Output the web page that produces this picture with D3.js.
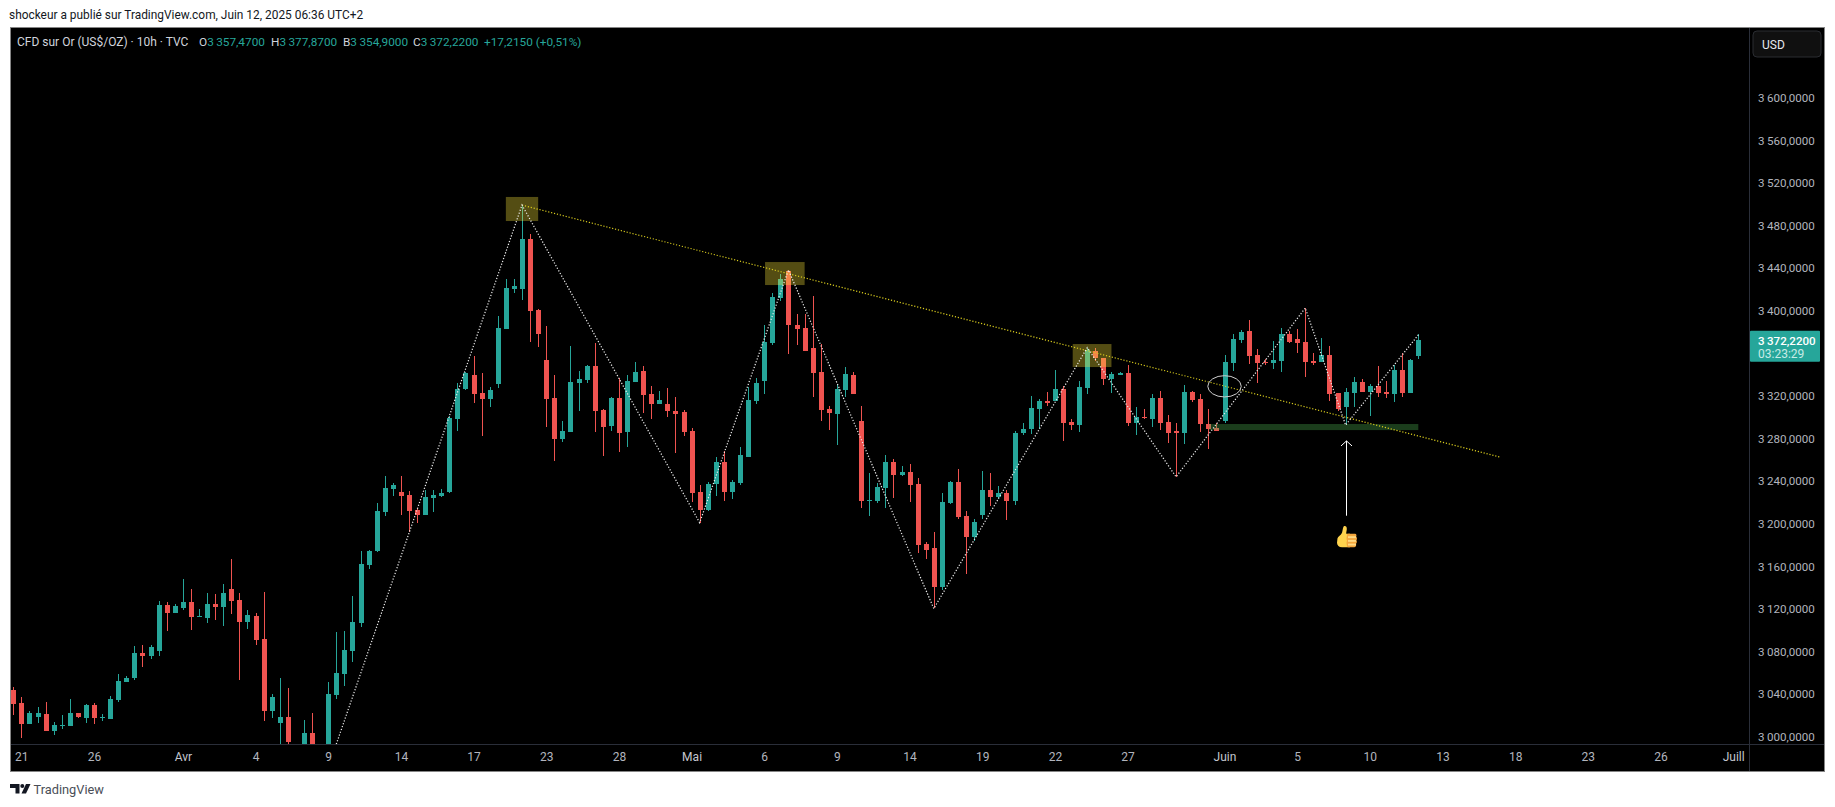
<!DOCTYPE html>
<html>
<head>
<meta charset="utf-8">
<script src="https://cdn.jsdelivr.net/npm/d3@7/dist/d3.min.js"></script>
<style>
html, body { margin: 0; padding: 0; background: #fff; overflow: hidden; }
text { font-family: Roboto, "Noto Sans", sans-serif; }
</style>
</head>
<body>
<div id="chart"></div>
<script>
// one value per 10h bar (bars 33-39 leave the frame at the bottom)
var opens = [3043.8,3031.6,3011.9,3018.5,3021.3,3005.3,3010,3010,3022.2,3017.5,3029.8,3017.9,3016.6,3034.4,3051.4,3055.1,3078.6,3075.8,3080.5,3123.7,3116.1,3120.8,3126.5,3112.7,3111.4,3124.6,3121.8,3138.7,3128.3,3107.7,3113.3,3091.7,3024.1,3012.9,3018.5,2990,2985,3003.5,2975,2984,3039.2,3058.9,3080.5,3106.8,3161.2,3174.4,3211,3232.6,3229.8,3226.9,3212.9,3208.2,3224.1,3226,
3229.7,3298.3,3326.4,3339.6,3322.7,3317.1,3331.1,3382.8,3420.3,3420.3,3467.3,3400.6,3353.7,3318,3279.5,3286.1,3332.1,3334.9,3348,3306.7,3291.7,3318,3286.1,3333,3343.4,3321.8,3312.4,3312.4,3305.8,3304.9,3287,3229.7,3212.8,3237.2,3257.9,3229.7,3238.2,3262.6,3315.2,3334,3369.6,
3411.9,3437.3,3386.6,3383.8,3365,3342.5,3307.7,3303,3325.5,3339.6,3296.4,3221.3,3221.3,3233.5,3257.9,3245.7,3248.6,3237.3,3180.9,3177.2,3140.6,3219.4,3239.2,3207.2,3187.5,3208.2,3231.6,3225.1,3228.8,3221.3,3285.2,3288.9,3307.7,3315.2,3315.2,3326.5,3295.5,3292.7,3327.4,3362.2,3355.6,3335.9,3339.6,3341.5,3294.6,3300.2,3298.3,
3318,3295.5,3287,3285.1,3323.6,3317.1,3293.6,3289.8,3296.4,3350.9,3372.5,3380.9,3358.4,3351.8,3350.9,3352.7,3378.1,3373.4,3370.6,3352.7,3351.8,3358.4,3322.7,3309.5,3322.7,3333,3323.6,3329.3,3323.6,3321.8,3344.3,3322.7,3357.47];
var highs = [3046.7,3037.3,3024.1,3027.9,3032.6,3013.8,3020.4,3035.4,3022.2,3030.7,3031.6,3021.3,3038.2,3058.9,3057,3085.2,3086.1,3086.1,3127.4,3126.5,3124.6,3148.1,3138.7,3119.9,3134.9,3134,3143.4,3166.8,3134.9,3119,3116.1,3135.9,3040.1,3055.1,3045.7,2992,3015.7,3022.2,2990,3051.4,3098.3,3099.2,3132.1,3174.4,3175.3,3219.4,3244.8,3238.2,3244.8,3230.7,3214.7,3231.6,3231.6,3232.6,
3301.1,3332.1,3342.4,3357.4,3341.5,3328.3,3395,3429.7,3429.7,3499.2,3472,3401.6,3385.6,3339.6,3296.4,3366.8,3343.4,3349,3369.6,3307.7,3318.9,3336.8,3339.6,3351.8,3348,3329.3,3324.6,3327.4,3318.9,3306.7,3289.8,3236.3,3239.1,3262.6,3268.2,3241,3272,3328.3,3336.8,3386.5,3416.6,
3434.5,3438.2,3396.9,3396.9,3413.8,3368.7,3310.5,3331.2,3347.1,3342.5,3310.5,3247.6,3238.2,3264.5,3260.8,3254.2,3256.1,3242.9,3182.8,3192.2,3228.8,3240.1,3251.4,3211.9,3204.4,3249.5,3247.6,3235.4,3231.6,3287.1,3294.6,3319.9,3317.1,3323.7,3344.3,3329.3,3298.3,3334,3365,3365,3355.6,3342.5,3342.5,3349,3309.6,3307.7,3321.8,
3324.6,3302,3294.5,3330.2,3324.6,3321.8,3307.7,3294.5,3358.4,3378.1,3381.8,3391.2,3364,3354.6,3371.5,3383.7,3380.9,3382.8,3402.5,3360.3,3374.3,3366.8,3322.7,3327.4,3337.7,3335.8,3331.1,3348,3334,3349,3360.3,3354.6,3377.87];
var lows = [3020.4,2998.8,3011.9,3012.9,3005.3,3001.6,3007.2,3010,3017.5,3012.9,3011.9,3014.7,3016.6,3032.6,3051.4,3053.2,3065.4,3072.9,3075.8,3099.2,3116.1,3119,3100.2,3112.4,3106.8,3109.6,3103.9,3115.2,3053.2,3101.1,3086.1,3014.7,3017.5,2985,2980,2975,2978,2975,2968,2978,3035.4,3047.6,3070.1,3103,3157.5,3173.4,3207.2,3226,3208.2,3192.2,3200.7,3208.2,3211,3225.1,
3229.1,3287,3325.5,3313.3,3282.3,3309.5,3327.4,3382.8,3416.6,3410,3370.6,3365.9,3290.8,3258.8,3276.7,3286.1,3305.8,3332.1,3286.1,3263.5,3287,3267.3,3272,3333,3303.9,3298.3,3312.4,3300.2,3266.4,3282.3,3220.3,3200.6,3211.9,3226,3221.3,3223.2,3236.3,3262.6,3312.4,3321.8,3367.8,
3409.1,3359.4,3367.8,3362.2,3319,3296.4,3288,3273.9,3319,3321.8,3214.7,3207.2,3219.4,3214.7,3224.1,3244.8,3220.4,3172.5,3166.9,3120.5,3137.7,3218.5,3204.4,3152.8,3183.8,3204.4,3216.6,3223.2,3203.5,3217.6,3283.3,3284.2,3288.9,3310.5,3315.2,3277.7,3288,3286.1,3321.8,3352.8,3330.2,3322.7,3339.6,3291.7,3283.3,3298.3,3290.8,
3287.9,3275.7,3244,3274.8,3314.2,3286.1,3270.1,3287,3294.5,3343.4,3369.6,3349.9,3332.1,3349,3345.2,3342.4,3369.6,3360.3,3337.7,3349,3351.8,3315.2,3305.8,3292.6,3309.5,3323.6,3301.1,3318.9,3318,3314.2,3318.9,3322.7,3354.9];
var closes = [3030.7,3011.9,3022.2,3022.2,3005.3,3011,3011,3022.2,3018.5,3029.8,3017.5,3018.5,3035.4,3052.3,3055.1,3078.6,3075.8,3084.2,3123.7,3116.1,3122.7,3126.5,3112.4,3113.3,3124.6,3121.8,3134.9,3127.4,3107.7,3114.3,3090.8,3024.1,3037.3,3018.5,2995,2982,3003.5,2983,2985,3040.1,3059.8,3081.4,3107.7,3162.2,3174.4,3211.9,3233.5,3236.3,3226,3211.9,3208.2,3225.1,3226.9,3228.8,
3299.2,3326.4,3341.5,3321.8,3317.1,3325.5,3383.7,3421.3,3423.2,3467.3,3399.7,3378.1,3317.1,3279.5,3287,3333,3335.8,3348,3305.8,3290.8,3318,3285.1,3334,3342.4,3320.8,3312.4,3316.1,3305.8,3303,3286.1,3228.8,3212.8,3237.2,3257.9,3229.7,3239.1,3264.5,3316.1,3332.1,3370.6,3412.8,
3429.8,3386.6,3382.8,3362.2,3341.5,3306.8,3304,3326.5,3340.6,3321.8,3221.3,3222.3,3234.5,3257.9,3245.7,3248.6,3236.4,3180,3175.3,3140.6,3220.4,3239.2,3206.3,3187.5,3201.6,3231.6,3225.1,3228.8,3221.3,3285.2,3288.9,3308.6,3315.2,3313.3,3326.5,3294.6,3292.7,3328.4,3363.1,3355.6,3335.9,3340.6,3341.5,3294.6,3300.2,3299.3,3318,
3294.5,3285.1,3285.1,3323.6,3316.1,3293.6,3288.9,3287,3351.8,3373.4,3380,3357.4,3350.9,3351.2,3353.7,3378.1,3370.6,3369.6,3351.8,3350.9,3358.4,3321.8,3307.7,3323.6,3333,3323.6,3329.3,3322.7,3321.8,3344.3,3322.7,3353.7,3372.22];

// 3360 is covered by the last price tag in the original, so it is not listed
var priceTicks = [3000,3040,3080,3120,3160,3200,3240,3280,3320,3400,3440,3480,3520,3560,3600];
var timeLabels = ['21','26','Avr','4','9','14','17','23','28','Mai','6','9','14','19','22','27','Juin','5','10','13','18','23','26','Juill'];
var timeBars = [1,10,21,30,39,48,57,66,75,84,93,102,111,120,129,138,150,159,168,177,186,195,204,213];

var ohlcLabels = ['O','H','B','C'];
var ohlcValues = [3357.47,3377.87,3354.9,3372.22];
var lastPrice = 3372.22;

// drawings, as [bar, price]
var zigzagBars = [40,63,85,96,114,133,144,160,165,174];
var zigzagPrices = [2993,3499.2,3201,3438.2,3120.3,3365.4,3244,3402.5,3292.6,3377.2];
var trendBars = [63,184.1];
var trendPrices = [3499.2,3262.6];
var boxBars = [[61,65],[93.1,98],[131.2,136]];
var boxPrices = [[3506.8,3484.2],[3445.7,3424.1],[3368.7,3347.1]];
var supportBars = [148.1,174];
var supportPrices = [3293.6,3287.9];

var width = 1835, height = 807;
var left = 10, right = 1749, top_ = 27, bottom = 744, frameRight = 1824, frameBottom = 771;

var upColor = '#26a69a', downColor = '#ef5350';

var svg = d3.select('#chart')
    .append('svg')
    .attr('width', width)
    .attr('height', height)
    .style('display', 'block');

var x = d3.scaleLinear().domain([0, 174]).range([13.3, 1418.3]);
var y = d3.scaleLinear().domain([3000, 3600]).range([736.7, 97.7]);
var fmt = d3.formatLocale({decimal: ',', thousands: '\u2009', grouping: [3], currency: ['', '']}).format(',.4f');

svg.append('text')
    .attr('x', 9)
    .attr('y', 19)
    .attr('font-size', 11.9)
    .attr('fill', '#131722')
    .text('shockeur a publié sur TradingView.com, Juin 12, 2025 06:36 UTC+2');

svg.append('rect')
    .attr('x', left + 0.5)
    .attr('y', top_ + 0.5)
    .attr('width', frameRight - left)
    .attr('height', frameBottom - top_)
    .attr('fill', '#000')
    .attr('stroke', '#858585');

svg.append('defs').append('clipPath')
    .attr('id', 'plot')
    .append('rect')
    .attr('x', left + 1)
    .attr('y', top_ + 1)
    .attr('width', right - left - 1)
    .attr('height', bottom - top_ - 1);

var plot = svg.append('g').attr('clip-path', 'url(#plot)');

var bars = plot.append('g')
    .selectAll('g')
    .data(d3.range(opens.length))
    .enter()
    .append('g')
    .attr('shape-rendering', 'crispEdges')
    .attr('fill', (i) => closes[i] >= opens[i] ? upColor : downColor);

// wicks
bars.append('rect')
    .attr('x', (i) => Math.round(x(i)))
    .attr('width', 1)
    .attr('y', (i) => Math.round(y(highs[i])))
    .attr('height', (i) => Math.max(1, Math.round(y(lows[i])) - Math.round(y(highs[i]))));

// bodies
bars.append('rect')
    .attr('x', (i) => Math.round(x(i)) - 2)
    .attr('width', 5)
    .attr('y', (i) => Math.round(y(Math.max(opens[i], closes[i]))))
    .attr('height', (i) => Math.max(1, Math.round(y(Math.min(opens[i], closes[i]))) - Math.round(y(Math.max(opens[i], closes[i])))));

plot.append('g')
    .selectAll('rect')
    .data(boxBars)
    .enter()
    .append('rect')
    .attr('x', (d) => x(d[0]))
    .attr('width', (d) => x(d[1]) - x(d[0]))
    .attr('y', (d, i) => y(boxPrices[i][0]))
    .attr('height', (d, i) => y(boxPrices[i][1]) - y(boxPrices[i][0]))
    .attr('fill', 'rgba(255,235,59,0.33)');

plot.append('rect')
    .attr('x', x(supportBars[0]))
    .attr('width', x(supportBars[1]) - x(supportBars[0]))
    .attr('y', y(supportPrices[0]))
    .attr('height', y(supportPrices[1]) - y(supportPrices[0]))
    .attr('fill', 'rgba(76,175,80,0.35)');

var line = d3.line()
    .x((d) => x(d[0]))
    .y((d) => y(d[1]));

plot.append('path')
    .attr('d', line(d3.zip(trendBars, trendPrices)))
    .attr('fill', 'none')
    .attr('stroke', '#d8cb1e')
    .attr('stroke-width', 1.2)
    .attr('stroke-dasharray', '1.2 1.8');

plot.append('path')
    .attr('d', line(d3.zip(zigzagBars, zigzagPrices)))
    .attr('fill', 'none')
    .attr('stroke', '#ececec')
    .attr('stroke-width', 1.25)
    .attr('stroke-dasharray', '1.2 1.8');

// circle on the break of the trend line
plot.append('ellipse')
    .attr('cx', x(150))
    .attr('cy', y(3329))
    .attr('rx', x(152.07) - x(150))
    .attr('ry', y(3319) - y(3329))
    .attr('fill', 'none')
    .attr('stroke', '#cfcfcf')
    .attr('stroke-width', 1);

// arrow up to the last low
var arrowX = Math.round(x(165)) + 0.5;
plot.append('path')
    .attr('d', 'M' + arrowX + ',' + y(3207.5) + 'V' + y(3277.7) + 'M' + (arrowX - 5.5) + ',' + (y(3277.7) + 5) + 'L' + arrowX + ',' + y(3277.7) + 'L' + (arrowX + 5.5) + ',' + (y(3277.7) + 5))
    .attr('fill', 'none')
    .attr('stroke', '#ffffff')
    .attr('stroke-width', 1);

// thumbs up sticker
var thumb = plot.append('g')
    .attr('transform', 'translate(' + (arrowX - 9.5) + ',' + (y(3207.5) + 10) + ')');
thumb.append('path')
    .attr('d', 'M0.5,12.5 C1,10.5 4,9.5 5,7 C5.8,5 5.5,2.5 6.8,0.6 C8.4,-0.3 10,1 9.8,3.5 C9.6,5.5 9,7 9.3,8 L13,8 L13,21.5 L5,21.5 C2,21.5 0,19.5 0,17 Z')
    .attr('fill', '#ffd34d');
thumb.append('path')
    .attr('d', 'M11,8 L18,8 C19.5,8 19.8,9.5 19.2,11 C20.2,12 20.2,13.5 19.4,14.5 C20.2,15.5 20,17 19,18 C19.5,19.5 19,21.5 17,21.5 L11,21.5 C10,21.5 9.6,20.5 10,19.5 C9.4,18.5 9.4,16 10,15 C9.4,14 9.4,11 10,10 C9.6,9 10,8 11,8 Z')
    .attr('fill', '#f4a63c');
thumb.append('g')
    .selectAll('rect')
    .data(['y1','y2','y3'])
    .enter()
    .append('rect')
    .attr('x', 11)
    .attr('y', (d, i) => 10.5 + i * 3.7)
    .attr('width', 8)
    .attr('height', 1.9)
    .attr('fill', '#ffd983');

// separators of the two axes
svg.append('line')
    .attr('x1', right + 0.5).attr('x2', right + 0.5)
    .attr('y1', top_ + 1).attr('y2', frameBottom)
    .attr('stroke', '#2a2e39');
svg.append('line')
    .attr('x1', left + 1).attr('x2', frameRight)
    .attr('y1', bottom + 0.5).attr('y2', bottom + 0.5)
    .attr('stroke', '#2a2e39');

var yAxis = d3.axisRight(y)
    .tickValues(priceTicks)
    .tickFormat(fmt)
    .tickSize(0)
    .tickPadding(0);

var yAxisG = svg.append('g')
    .attr('transform', 'translate(' + (right + 9) + ',0)')
    .call(yAxis);
yAxisG.select('.domain').remove();
yAxisG.selectAll('text')
    .attr('font-size', 11.6)
    .attr('font-family', 'Roboto')
    .attr('fill', '#b2b5be');

var xAxis = d3.axisBottom(x)
    .tickValues(timeBars)
    .tickFormat((d, i) => timeLabels[i])
    .tickSize(0)
    .tickPadding(0);

var xAxisG = svg.append('g')
    .attr('transform', 'translate(0,' + (bottom + 8) + ')')
    .call(xAxis);
xAxisG.select('.domain').remove();
xAxisG.selectAll('text')
    .attr('font-size', 12)
    .attr('font-family', 'Roboto')
    .attr('fill', (d, i) => /[A-Z]/.test(timeLabels[i]) ? '#c4c7cf' : '#b2b5be');

// USD button
svg.append('rect')
    .attr('x', 1753)
    .attr('y', 31)
    .attr('width', 68)
    .attr('height', 26)
    .attr('rx', 4)
    .attr('fill', '#101010')
    .attr('stroke', '#2a2c31');
svg.append('text')
    .attr('x', 1762)
    .attr('y', 48.5)
    .attr('font-size', 12)
    .attr('fill', '#e6e8ee')
    .text('USD');

// last price tag
svg.append('rect')
    .attr('x', right + 1)
    .attr('y', y(lastPrice) - 9.5)
    .attr('width', 70)
    .attr('height', 31)
    .attr('rx', 1)
    .attr('fill', upColor);
svg.append('text')
    .attr('x', right + 9)
    .attr('y', y(lastPrice) + 5)
    .attr('font-size', 11.6)
    .attr('font-weight', 500)
    .attr('fill', '#fff')
    .text(fmt(lastPrice));
svg.append('text')
    .attr('x', right + 9)
    .attr('y', y(lastPrice) + 18)
    .attr('font-size', 12)
    .attr('fill', '#c8ebe6')
    .text('03:23:29');

// legend line
svg.append('text')
    .attr('x', 17)
    .attr('y', 45.5)
    .attr('font-size', 12)
    .attr('fill', '#d1d4dc')
    .text('CFD sur Or (US$/OZ) · 10h · TVC');

var legendX = [199, 271, 343, 413];
var legend = svg.append('g')
    .selectAll('text')
    .data(ohlcLabels)
    .enter()
    .append('text')
    .attr('x', (d, i) => legendX[i])
    .attr('y', 45.5)
    .attr('font-size', 11.8)
    .attr('fill', '#d1d4dc');
legend.append('tspan').text((d) => d);
legend.append('tspan')
    .attr('fill', upColor)
    .text((d, i) => fmt(ohlcValues[i]));

svg.append('text')
    .attr('x', 484)
    .attr('y', 45.5)
    .attr('font-size', 11.8)
    .attr('fill', upColor)
    .text('+17,2150 (+0,51%)');

// footer logo
var logo = svg.append('g').attr('fill', '#131722');
logo.append('path').attr('d', 'M10,784 H19.5 V793.5 H15.5 V788 H10 Z');
logo.append('circle').attr('cx', 22.3).attr('cy', 786).attr('r', 2);
logo.append('path').attr('d', 'M26,784 H30.5 L26,793.5 H21.5 Z');
svg.append('text')
    .attr('x', 33.5)
    .attr('y', 794)
    .attr('font-size', 12.8)
    .attr('fill', '#4a4e57')
    .text('TradingView');
</script>
</body>
</html>
